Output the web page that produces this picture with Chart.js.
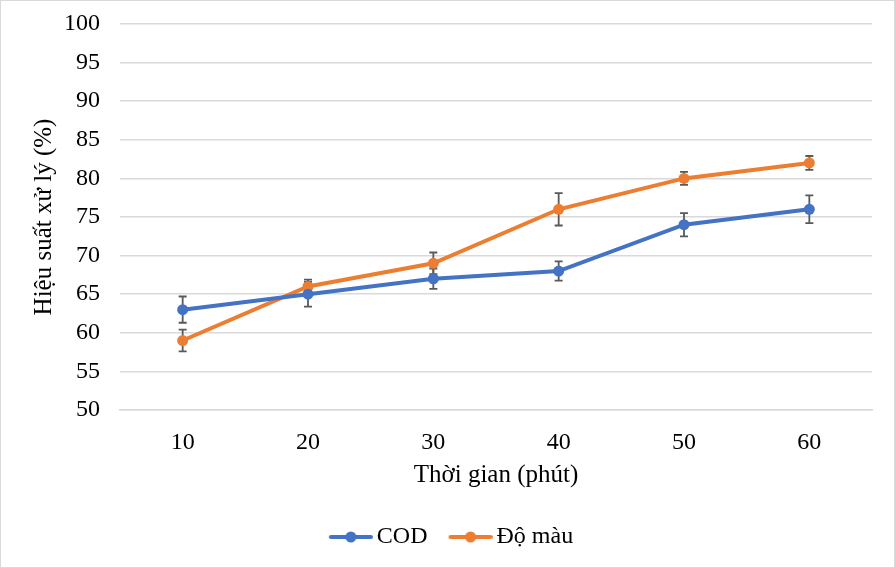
<!DOCTYPE html>
<html>
<head>
<meta charset="utf-8">
<script src="https://cdn.jsdelivr.net/npm/chart.js@4.4.1/dist/chart.umd.min.js"></script>
<style>
html, body { margin: 0; padding: 0; background: #fff; }
#wrap { width: 893px; height: 566px; border: 1px solid #d9d9d9; }
</style>
</head>
<body>
<div id="wrap"><canvas id="chart" width="893" height="566"></canvas></div>
<script>
/* ---- data ---- */
const timeLabels = ["10", "20", "30", "40", "50", "60"];
const codValues = [63, 65, 67, 68, 74, 76];
const codErrors = [1.7, 1.6, 1.3, 1.25, 1.5, 1.8];
const colorValues = [59, 66, 69, 76, 80, 82];
const colorErrors = [1.4, 0.9, 1.4, 2.1, 0.85, 0.9];
const yMin = 50, yMax = 100, yStep = 5;

const FONT = "'Liberation Serif', 'Times New Roman', serif";
const BLUE = "#4472c4";
const ORANGE = "#ed7d31";
const GRID = "#d9d9d9";

/* ---- error bars drawn under the lines ---- */
const errorBars = {
    id: "errorBars",
    beforeDatasetsDraw(chart) {
        const ctx = chart.ctx;
        const y = chart.scales.y;
        ctx.save();
        ctx.strokeStyle = "#595959";
        ctx.lineWidth = 1.8;
        chart.data.datasets.forEach((ds, i) => {
            chart.getDatasetMeta(i).data.forEach((pt, j) => {
                const top = y.getPixelForValue(ds.data[j] + ds.errors[j]);
                const bot = y.getPixelForValue(ds.data[j] - ds.errors[j]);
                ctx.beginPath();
                ctx.moveTo(pt.x, top); ctx.lineTo(pt.x, bot);
                ctx.moveTo(pt.x - 4, top); ctx.lineTo(pt.x + 4, top);
                ctx.moveTo(pt.x - 4, bot); ctx.lineTo(pt.x + 4, bot);
                ctx.stroke();
            });
        });
        ctx.restore();
    }
};

// legend marker: short line with a dot; transparent room on the left
// so the visible marker sits close to its text
function legendMarker(color) {
    const c = document.createElement("canvas");
    c.width = 63; c.height = 12;
    const g = c.getContext("2d");
    const x0 = 63 - 44;
    g.strokeStyle = color;
    g.lineWidth = 4;
    g.lineCap = "round";
    g.beginPath(); g.moveTo(x0 + 2, 6); g.lineTo(x0 + 42, 6); g.stroke();
    g.fillStyle = color;
    g.beginPath(); g.arc(x0 + 22, 6, 5.5, 0, Math.PI * 2); g.fill();
    return c;
}
const markers = [legendMarker(BLUE), legendMarker(ORANGE)];

new Chart(document.getElementById("chart"), {
    type: "line",
    data: {
        labels: timeLabels,
        datasets: [{
            label: "COD",
            data: codValues,
            errors: codErrors,
            borderColor: BLUE,
            backgroundColor: BLUE,
            borderWidth: 4,
            pointRadius: 5.5,
            pointBorderWidth: 0,
            tension: 0
        }, {
            label: "Độ màu",
            data: colorValues,
            errors: colorErrors,
            borderColor: ORANGE,
            backgroundColor: ORANGE,
            borderWidth: 4,
            pointRadius: 5.5,
            pointBorderWidth: 0,
            tension: 0
        }]
    },
    options: {
        responsive: false,
        animation: false,
        layout: { padding: { left: 18, right: 22, top: 23, bottom: 8 } },
        plugins: {
            tooltip: { enabled: false },
            legend: {
                position: "bottom",
                labels: {
                    color: "#000",
                    font: { family: FONT, size: 24 },
                    usePointStyle: true,
                    pointStyleWidth: 47,
                    padding: 10,
                    generateLabels(chart) {
                        return Chart.defaults.plugins.legend.labels.generateLabels(chart)
                            .map((l, i) => Object.assign(l, { pointStyle: markers[i] }));
                    }
                }
            }
        },
        scales: {
            x: {
                offset: true,
                grid: { display: false, drawTicks: false },
                border: { display: true, color: GRID, width: 1.5 },
                ticks: { color: "#000", font: { family: FONT, size: 24 }, padding: 18 },
                title: {
                    display: true,
                    text: "Thời gian (phút)",
                    color: "#000",
                    font: { family: FONT, size: 25 },
                    padding: { top: 0, bottom: 25 }
                },
                afterFit(s) { s.height = 105; }
            },
            y: {
                min: yMin,
                max: yMax,
                grid: { color: GRID, lineWidth: 1.5, drawTicks: false },
                border: { display: false },
                ticks: { stepSize: yStep, color: "#000", font: { family: FONT, size: 24 }, padding: 20 },
                title: {
                    display: true,
                    text: "Hiệu suất xử lý (%)",
                    color: "#000",
                    font: { family: FONT, size: 25 },
                    padding: { top: 10, bottom: 0 }
                },
                afterFit(s) {
                    s.width = 101;
                    s.paddingTop = 0;
                    s.paddingBottom = 0;
                }
            }
        }
    },
    plugins: [errorBars]
});
</script>
</body>
</html>
